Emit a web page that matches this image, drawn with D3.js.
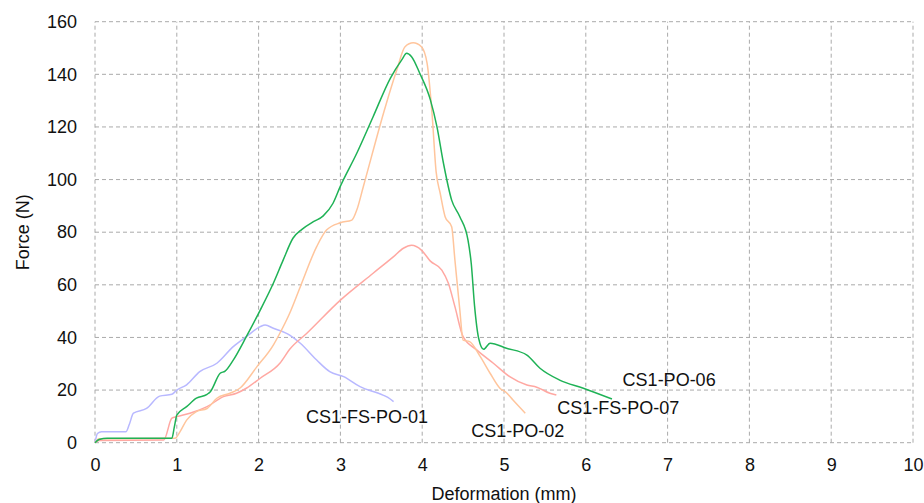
<!DOCTYPE html>
<html><head><meta charset="utf-8">
<script src="https://cdn.jsdelivr.net/npm/d3@7"></script>
<style>body{margin:0;background:#fff}svg{display:block}text{font-family:"Liberation Sans",Arial,sans-serif;fill:#111}</style>
</head><body><svg id="c" width="924" height="503"></svg>
<script>
const xTicks = [0,1,2,3,4,5,6,7,8,9,10];
const yTicks = [0,20,40,60,80,100,120,140,160];

const fs01X = [0,0.03,0.08,0.38,0.42,0.47,0.63,0.79,0.94,1.0,1.12,1.28,1.49,1.69,1.85,2.02,2.08,2.18,2.38,2.51,2.71,2.87,3.04,3.24,3.52,3.58,3.65];
const fs01Y = [0,3.5,4.2,4.2,7,11.2,13,17.7,18.4,20,22,27,30.2,36.5,40.3,44.1,44.7,43.5,40.9,37.8,31.4,27,25.1,21.3,18.1,17.2,15.6];

const po06X = [0,0.05,0.15,0.94,0.97,1.0,1.12,1.24,1.37,1.41,1.53,1.59,1.69,1.85,2.02,2.18,2.30,2.42,2.53,2.67,2.79,2.91,3.0,3.2,3.4,3.61,3.75,3.81,3.87,3.97,4.10,4.18,4.26,4.36,4.46,4.56,4.60,4.64,4.69,4.75,4.83,5.03,5.28,5.44,5.68,5.97,6.32];
const po06Y = [0,1.2,1.7,1.7,6,10.5,13.7,16.9,18.4,19.4,26.4,27.2,31.4,40.3,50.4,60.6,69.4,77.7,81.1,84,86.2,91,97.5,110,123.9,138.5,145.5,148,146.7,140.4,130.3,120.1,106.2,92.2,85.9,77,68,52,39.7,35.5,37.8,35.9,33.3,28.3,23.8,20.7,16.6];

const po02X = [0,0.05,0.98,1.04,1.12,1.24,1.37,1.49,1.65,1.77,1.98,2.18,2.26,2.38,2.51,2.71,2.83,3.0,3.14,3.2,3.28,3.55,3.69,3.79,3.89,3.99,4.06,4.12,4.17,4.22,4.28,4.36,4.40,4.46,4.50,4.58,4.71,4.83,4.95,5.03,5.11,5.26];
const po02Y = [0,1.5,1.7,4.2,8.6,11.8,13,16.9,18.8,20.7,28.9,37.1,41.6,49.2,59.3,74.5,80.8,83.6,84.6,88.4,97.3,127.7,141.7,150.5,152,150.5,144.2,125.2,103,94.8,85.9,82.1,69.4,50.4,39,38.4,32.7,26.4,20.7,19,16.2,11.2];

const fs07X = [0,0.05,0.84,0.94,1.0,1.16,1.37,1.57,1.73,1.85,2.02,2.26,2.38,2.59,3.0,3.40,3.65,3.77,3.87,3.99,4.10,4.24,4.32,4.40,4.50,4.67,4.87,5.07,5.28,5.40,5.56,5.64];
const fs07Y = [0,0.8,1,9.3,9.9,11.2,13.7,17.5,18.8,20.7,24.5,30.2,35.5,41.6,54.2,64.4,70.7,73.9,75,73.2,69,65.6,60.6,51.7,40.3,35.2,30.2,25.1,21.9,21.1,18.8,18.1];

const seriesNames = ["CS1-FS-PO-01","CS1-FS-PO-07","CS1-PO-02","CS1-PO-06"];
const labelX = [2.58,5.65,4.6,6.45];
const labelY = [7.5,11,2.2,21.5];

const series = [
  {name:seriesNames[0], xs:fs01X, ys:fs01Y, color:"#b8b8ff"},
  {name:seriesNames[1], xs:fs07X, ys:fs07Y, color:"#ffa8a2"},
  {name:seriesNames[2], xs:po02X, ys:po02Y, color:"#ffc59c"},
  {name:seriesNames[3], xs:po06X, ys:po06Y, color:"#1fb256"}
];

const svg = d3.select("#c");
const m = {l:95, r:11, t:21.7, b:60.3};
const W = 924, H = 503;
const x = d3.scaleLinear().domain([0,10]).range([m.l, W-m.r]);
const y = d3.scaleLinear().domain([0,160]).range([H-m.b, m.t]);

const grid = svg.append("g").attr("stroke","#aaa").attr("stroke-dasharray","4,3").attr("stroke-width",1);
xTicks.forEach(t=>grid.append("line").attr("x1",x(t)).attr("x2",x(t)).attr("y1",y(0)).attr("y2",y(160)));
yTicks.forEach(t=>grid.append("line").attr("x1",x(0)).attr("x2",x(10)).attr("y1",y(t)).attr("y2",y(t)));

const xa = svg.append("g").attr("transform",`translate(0,${y(0)})`)
  .call(d3.axisBottom(x).tickValues(xTicks).tickSize(0).tickPadding(16).tickFormat(d3.format("d")));
xa.select(".domain").remove();
xa.selectAll("text").attr("font-size",18).style("font-family","Liberation Sans, Arial, sans-serif").attr("fill","#111");

const ya = svg.append("g").attr("transform",`translate(${x(0)},0)`)
  .call(d3.axisLeft(y).tickValues(yTicks).tickSize(0).tickPadding(18).tickFormat(d3.format("d")));
ya.select(".domain").remove();
ya.selectAll("text").attr("font-size",18).style("font-family","Liberation Sans, Arial, sans-serif").attr("fill","#111");

const line = d3.line().x(d=>x(d[0])).y(d=>y(d[1])).curve(d3.curveMonotoneX);
series.forEach(s=>{
  const pts = s.xs.map((v,i)=>[v,s.ys[i]]);
  svg.append("path").attr("d",line(pts)).attr("fill","none").attr("stroke",s.color).attr("stroke-width",1.5);
});

seriesNames.forEach((n,i)=>{
  svg.append("text").attr("x",x(labelX[i])).attr("y",y(labelY[i])).attr("font-size",18).text(n);
});

svg.append("text").attr("x",(x(0)+x(10))/2).attr("y",500).attr("text-anchor","middle").attr("font-size",18).text("Deformation (mm)");
svg.append("text").attr("transform",`translate(29,${(y(0)+y(160))/2}) rotate(-90)`).attr("text-anchor","middle").attr("font-size",18).text("Force (N)");
</script></body></html>
